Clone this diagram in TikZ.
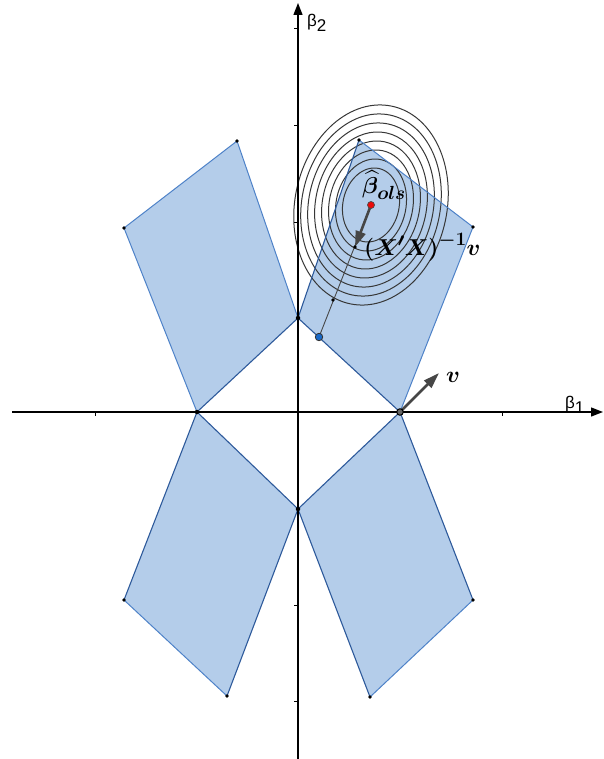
\RequirePackage{fix-cm}
\documentclass[tikz,border=0pt]{standalone}
\usepackage{fontspec}
\usepackage{amsmath,bm}
\newfontfamily\axisfont{Liberation Sans}
\DeclareMathSizes{23}{23}{19}{15}
\usetikzlibrary{arrows.meta}
\definecolor{regfill}{RGB}{180,205,234}
\definecolor{edgeL}{RGB}{78,130,200}
\definecolor{edgeD}{RGB}{46,90,155}
\definecolor{ellc}{RGB}{55,55,55}
\definecolor{arrc}{RGB}{70,70,70}
\definecolor{ptblue}{RGB}{25,105,200}
\definecolor{ptred}{RGB}{235,10,10}
\begin{document}
\begin{tikzpicture}[x=1pt,y=-1pt,
  axis/.style={line width=1.3pt, -{Triangle[length=12pt,width=9pt]}},
  region/.style={fill=regfill, draw=none},
  edgelight/.style={edgeL, line width=1pt},
  edgedark/.style={edgeD, line width=1.1pt},
  tick/.style={line width=0.8pt},
  level/.style={ellc, line width=1pt},
  vecarrow/.style={arrc, line width=2.6pt, -{Triangle[length=16pt,width=10pt]}},
  thinline/.style={arrc, line width=0.9pt},
  vtx/.style={circle, fill=black, inner sep=0pt, minimum size=3.6pt},
  gvtx/.style={circle, fill=black!60, draw=black, line width=1pt, inner sep=0pt, minimum size=6.5pt},
  axlabel/.style={font=\axisfont\fontsize{17}{19}\selectfont, inner sep=0pt},
  mathlabel/.style={font=\fontsize{23}{27}\selectfont, inner sep=0pt}
]
\useasboundingbox (0,0) rectangle (603,759);

% vertices
\coordinate (ULa) at (237,141);
\coordinate (ULb) at (124,228);
\coordinate (L)   at (197,412);
\coordinate (T)   at (298,318);
\coordinate (URa) at (359,140);
\coordinate (URb) at (473,227);
\coordinate (R)   at (400,412);
\coordinate (B)   at (298,509);
\coordinate (LLa) at (124,600);
\coordinate (LLb) at (227,696);
\coordinate (LRa) at (370,697);
\coordinate (LRb) at (473,600);
\coordinate (ols) at (371,205);
\coordinate (grad) at (355,247);
\coordinate (mid) at (333,300);
\coordinate (tan) at (319,337);
\coordinate (vtip) at (439,373);

% regions
\fill[region] (T) -- (ULa) -- (ULb) -- (L) -- cycle;
\fill[region] (T) -- (URa) -- (URb) -- (R) -- cycle;
\fill[region] (B) -- (LLb) -- (LLa) -- (L) -- cycle;
\fill[region] (B) -- (LRa) -- (LRb) -- (R) -- cycle;

% level sets
\begin{scope}[rotate around={-12:(ols)}]
\foreach \k in {0.37,0.46,0.55,0.64,0.73,0.82,0.91,1}
  \draw[level] (ols) ellipse [x radius=\k*76pt, y radius=\k*101pt];
\end{scope}

% region edges
\draw[edgelight] (ULb) -- (ULa) -- (T);
\draw[edgelight] (ULb) -- (L);
\draw[edgelight] (URa) -- (URb) -- (R);
\draw[edgedark] (T) -- (URa);
\draw[edgelight] (LLa) -- (LLb);
\draw[edgelight] (LRa) -- (LRb);
\draw[edgedark] (L) -- (LLa);
\draw[edgedark] (LLb) -- (B);
\draw[edgedark] (B) -- (LRa);
\draw[edgedark] (LRb) -- (R);
\draw[edgedark] (L) -- (T) -- (R) -- (B) -- cycle;

% axes
\coordinate (xs) at (12,412);
\coordinate (xe) at (603,412);
\coordinate (ys) at (298,759);
\coordinate (ye) at (298,3);
\draw[axis] (xs) -- (xe);
\draw[axis] (ys) -- (ye);
\foreach \x in {95,502} \draw[tick] (\x,412) -- (\x,416);
\foreach \y in {28,125,222,605,701} \draw[tick] (298,\y) -- (294,\y);

% vectors
\draw[thinline] (ols) -- (tan);
\draw[vecarrow] (ols) -- (grad);
\draw[vecarrow] (R) -- (vtip);

% points
\foreach \p in {ULa,ULb,URa,URb,LLa,LLb,LRa,LRb,grad,mid}
  \node[vtx] at (\p) {};
\node[vtx, minimum size=4.5pt] at (L) {};
\node[vtx, minimum size=4.5pt] at (T) {};
\node[vtx, minimum size=4.5pt] at (B) {};
\node[gvtx] at (R) {};
\node[circle, fill=ptred, draw=black!70, line width=0.7pt, inner sep=0pt, minimum size=7pt] at (ols) {};
\node[circle, fill=ptblue, draw=black!80, line width=0.8pt, inner sep=0pt, minimum size=7.5pt] at (tan) {};

% labels
\node[axlabel, anchor=base west] (b2) at (307,27) {β\raisebox{-5pt}{2}};
\node[axlabel, anchor=base west] (b1) at (565,408) {β\raisebox{-5pt}{1}};
\node[mathlabel, anchor=base west] (lols) at (362,194) {$\bm{\widehat{\beta}}_{\bm{ols}}$};
\node[mathlabel, anchor=base west] (lgrad) at (364,255) {$\bm{(X'X)^{-1}v}$};
\node[mathlabel, anchor=base west] (lv) at (446,382) {$\bm{v}$};
\end{tikzpicture}
\end{document}
